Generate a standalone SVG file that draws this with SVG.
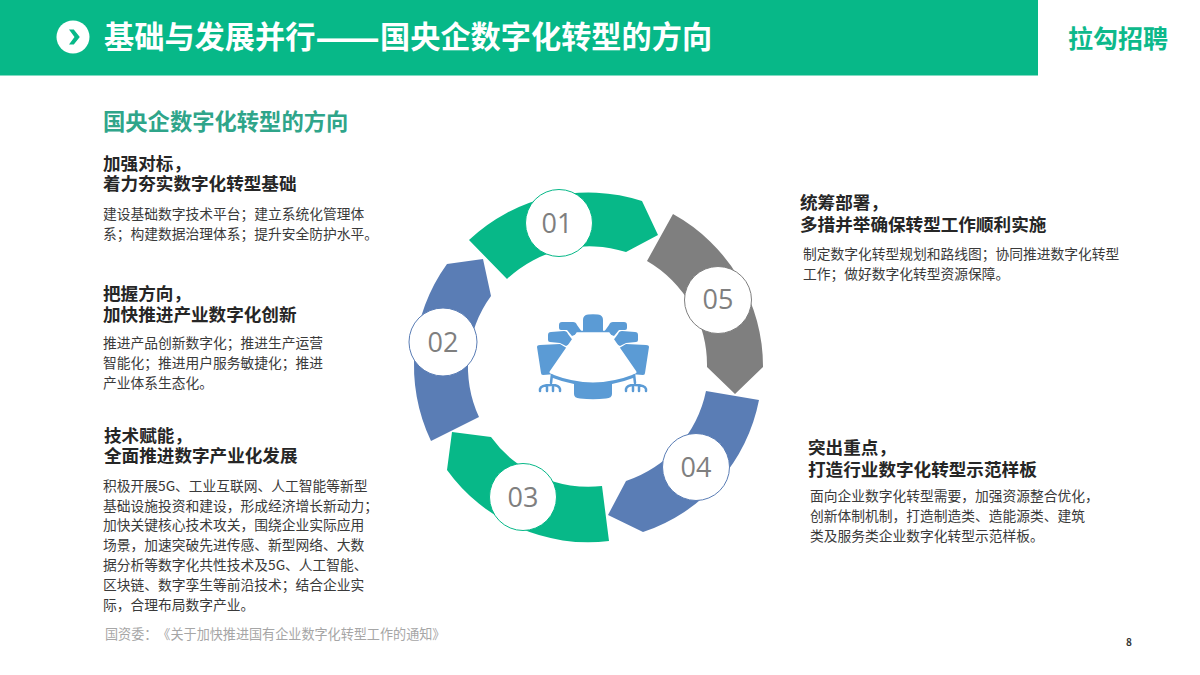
<svg xmlns="http://www.w3.org/2000/svg" width="1200" height="675" viewBox="0 0 1200 675">
<style>
text{font-family:"Noto Sans CJK SC","Noto Sans",sans-serif;text-spacing-trim:space-all}
.h{font-size:17.600px;font-weight:700;fill:#262626}
.b{font-size:13.750px;fill:#3a3a3a}
.num{font-size:27px;fill:#7f7f7f;text-anchor:middle;font-family:"Open Sans","Noto Sans",sans-serif}
.ic{fill:#5B9BD5}
</style>
<defs>
<g id="chairs">
<path class="ic" d="M537 347Q537 345 540 345L560 344L570 350L556 374L543 375Q541 375 541 373Z"/>
<path class="ic" d="M548 335Q548 332 551 332L564 331Q567 331 568 334L574 342L566 346L560 343L550 342Q548 342 548 340Z"/>
<path class="ic" d="M559 325Q559 322 562 322L573 322Q576 322 577 325L582 332L572 336L567 330L561 330Q559 330 559 328Z"/>
<path d="M552 374L551 383M551 385Q541 385 540 389V391M547 387V391M553 387V391M560 391V389Q559 385 552 385" fill="none" stroke="#5B9BD5" stroke-width="2.500" stroke-linecap="round"/>
</g>
</defs>
<rect width="1200" height="675" fill="#fff"/>
<g id="header">
<rect x="0" y="0" width="1038" height="75.500" fill="#07B888"/>
<circle cx="73" cy="37" r="16.500" fill="#fff"/>
<path d="M69 29.500h4.800l6 7.500-6 7.500h-4.800l5.500-7.500z" fill="#07B888"/>
<text x="104" y="48" font-size="30.200" font-weight="700" fill="#fff">基础与发展并行<tspan font-size="38" dy="3">——</tspan><tspan dy="-3">国央企数字化转型的方向</tspan></text>
<text x="1068" y="48" font-size="25" font-weight="700" fill="#0DB98B">拉勾招聘</text>
</g>
<text id="subtitle" x="103" y="130" font-size="22.300" font-weight="700" fill="#2FA58A">国央企数字化转型的方向</text>
<g id="connectors">
<path d="M469 240A174 174 0 0 1 642 201L658 235L626 252A120 120 0 0 0 507 279Z" fill="#07B888"/>
<path d="M447 264L483 259L491 296A120 120 0 0 0 479 417L431 441A174 174 0 0 1 447 264Z" fill="#5A7DB5"/>
<path d="M452 432L491 437A120 120 0 0 0 602 486L609 541A174 174 0 0 1 447 470Z" fill="#07B888"/>
<path d="M706 391L759 400A174 174 0 0 1 643 532L608 515L626 481A120 120 0 0 0 706 391Z" fill="#5A7DB5"/>
<path d="M673 214A174 174 0 0 1 763 367L735 394L707 367A120 120 0 0 0 647 261Z" fill="#7F7F7F"/>
</g>
<g id="node-01"><circle cx="559" cy="223" r="33.500" fill="#fff" stroke="#07B888"/><text class="num" x="557" y="233">01</text></g>
<g id="node-02"><circle cx="443" cy="342" r="34" fill="#fff" stroke="#5A7DB5"/><text class="num" x="443" y="352">02</text></g>
<g id="node-03"><circle cx="523" cy="497" r="33.500" fill="#fff" stroke="#07B888"/><text class="num" x="523" y="507">03</text></g>
<g id="node-04"><circle cx="696" cy="467" r="33.500" fill="#fff" stroke="#5A7DB5"/><text class="num" x="696" y="477">04</text></g>
<g id="node-05"><circle cx="718" cy="300" r="33.500" fill="#fff" stroke="#7F7F7F"/><text class="num" x="718" y="309">05</text></g>
<g id="center-icon">
<use href="#chairs"/>
<use href="#chairs" transform="matrix(-1 0 0 1 1186 0)"/>
<path class="ic" d="M583 320Q583 315 588 314.500Q593 314 598 314.500Q603 315 603 320V334H583Z"/>
<path class="ic" d="M574 384H612V394Q612 398 606 398.500Q593 400 580 398.500Q574 398 574 394Z"/>
<path d="M578 333H608L635 372Q593 390 551 372Z" fill="#fff" stroke="#fff" stroke-width="3" stroke-linejoin="round"/>
<path d="M577 331.500H609" fill="none" stroke="#5B9BD5" stroke-width="1.500"/>
<path d="M552 376Q593 392 634 376" fill="none" stroke="#5B9BD5" stroke-width="3"/>
</g>
<g id="item-1">
<text class="h" x="103" y="170">加强对标，</text><text class="h" x="103" y="190">着力夯实数字化转型基础</text>
<text class="b" x="103" y="219">建设基础数字技术平台；建立系统化管理体</text><text class="b" x="103" y="239">系；构建数据治理体系；提升安全防护水平。</text>
</g>
<g id="item-2">
<text class="h" x="103" y="300">把握方向，</text><text class="h" x="103" y="321">加快推进产业数字化创新</text>
<text class="b" x="103" y="348">推进产品创新数字化；推进生产运营</text><text class="b" x="103" y="368">智能化；推进用户服务敏捷化；推进</text><text class="b" x="103" y="388">产业体系生态化。</text>
</g>
<g id="item-3">
<text class="h" x="104" y="442">技术赋能，</text><text class="h" x="104" y="462">全面推进数字产业化发展</text>
<text class="b" x="103" y="491">积极开展5G、工业互联网、人工智能等新型</text><text class="b" x="103" y="511">基础设施投资和建设，形成经济增长新动力；</text><text class="b" x="103" y="530">加快关键核心技术攻关，围绕企业实际应用</text><text class="b" x="103" y="550">场景，加速突破先进传感、新型网络、大数</text><text class="b" x="103" y="570">据分析等数字化共性技术及5G、人工智能、</text><text class="b" x="103" y="590">区块链、数字孪生等前沿技术；结合企业实</text><text class="b" x="103" y="610">际，合理布局数字产业。</text>
</g>
<text id="source" x="105" y="639" font-size="13.100" fill="#a6a6a6">国资委：《关于加快推进国有企业数字化转型工作的通知》</text>
<g id="item-5">
<text class="h" x="800" y="209">统筹部署，</text><text class="h" x="800" y="231">多措并举确保转型工作顺利实施</text>
<text class="b" x="803" y="259">制定数字化转型规划和路线图；协同推进数字化转型</text><text class="b" x="803" y="279">工作；做好数字化转型资源保障。</text>
</g>
<g id="item-4">
<text class="h" x="808" y="454">突出重点，</text><text class="h" x="808" y="476">打造行业数字化转型示范样板</text>
<text class="b" x="810" y="501">面向企业数字化转型需要，加强资源整合优化，</text><text class="b" x="810" y="521">创新体制机制，打造制造类、造能源类、建筑</text><text class="b" x="810" y="541">类及服务类企业数字化转型示范样板。</text>
</g>
<text id="page" x="1126" y="646" font-size="10" font-weight="700" fill="#333">8</text>
</svg>
